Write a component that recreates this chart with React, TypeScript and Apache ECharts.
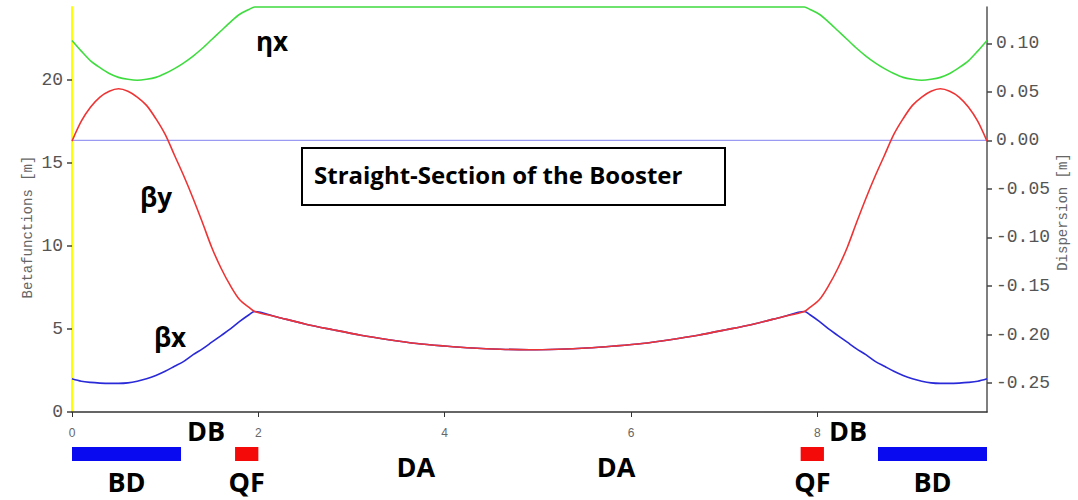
import React, { useEffect, useRef } from "react";
import * as echarts from "echarts";

// longitudinal position s [m]
const S = [
  0, 0.1, 0.2, 0.3, 0.4, 0.5, 0.6, 0.7, 0.8, 0.9, 1.0, 1.1, 1.2, 1.3, 1.4, 1.5, 1.6, 1.7, 1.8, 1.9, 1.96,
  2.2, 2.5, 2.8, 3.1, 3.4, 3.7, 4.0, 4.3, 4.6, 4.91, 5.22, 5.52, 5.82, 6.12, 6.42, 6.72, 7.02, 7.32, 7.62,
  7.86,
  7.92, 8.02, 8.12, 8.22, 8.32, 8.42, 8.52, 8.62, 8.72, 8.82, 8.92, 9.02, 9.12, 9.22, 9.32, 9.42, 9.52, 9.62, 9.72, 9.82,
];

// horizontal beta function [m]
const BETA_X = [
  2.0, 1.85, 1.78, 1.74, 1.72, 1.72, 1.75, 1.85, 2.0, 2.2, 2.45, 2.75, 3.05, 3.45, 3.8, 4.2, 4.6, 5.0, 5.45, 5.85, 6.05,
  5.72, 5.3, 4.95, 4.62, 4.35, 4.12, 3.97, 3.85, 3.78, 3.75, 3.78, 3.85, 3.97, 4.12, 4.35, 4.62, 4.95, 5.3, 5.72,
  6.05,
  5.85, 5.45, 5.0, 4.6, 4.2, 3.8, 3.45, 3.05, 2.75, 2.45, 2.2, 2.0, 1.85, 1.75, 1.72, 1.72, 1.74, 1.78, 1.85, 2.0,
];

// vertical beta function [m]
const BETA_Y = [
  16.3, 17.5, 18.35, 18.95, 19.3, 19.45, 19.3, 18.95, 18.45, 17.65, 16.7, 15.45, 14.2, 12.85, 11.4, 9.9, 8.65, 7.6, 6.75, 6.3, 6.05,
  5.72, 5.3, 4.95, 4.62, 4.35, 4.12, 3.97, 3.85, 3.78, 3.75, 3.78, 3.85, 3.97, 4.12, 4.35, 4.62, 4.95, 5.3, 5.72,
  6.05,
  6.3, 6.75, 7.6, 8.65, 9.9, 11.4, 12.85, 14.2, 15.45, 16.7, 17.65, 18.45, 18.95, 19.3, 19.45, 19.3, 18.95, 18.35, 17.5, 16.3,
];

// horizontal dispersion [m]
const ETA_X = [
  0.103, 0.092, 0.082, 0.075, 0.069, 0.065, 0.063, 0.062, 0.063, 0.065, 0.069, 0.074, 0.08, 0.087, 0.095, 0.104, 0.113, 0.122, 0.13, 0.135, 0.1375,
  0.1375, 0.1375, 0.1375, 0.1375, 0.1375, 0.1375, 0.1375, 0.1375, 0.1375, 0.1375, 0.1375, 0.1375, 0.1375, 0.1375, 0.1375, 0.1375, 0.1375, 0.1375, 0.1375,
  0.1375,
  0.135, 0.13, 0.122, 0.113, 0.104, 0.095, 0.087, 0.08, 0.074, 0.069, 0.065, 0.063, 0.062, 0.063, 0.065, 0.069, 0.075, 0.082, 0.092, 0.103,
];

// vertical dispersion (zero line)
const ETA_Y_S = [0, 9.82];
const ETA_Y = [0, 0];

// axis ticks
const X_TICKS = [0, 2, 4, 6, 8];
const BETA_TICKS = [0, 5, 10, 15, 20];
const DISP_TICKS = [0.1, 0.05, 0, -0.05, -0.1, -0.15, -0.2, -0.25];

// lattice elements
const ELEMENT_NAMES = ["BD", "QF", "QF", "BD"];
const ELEMENT_START = [0, 1.75, 7.82, 8.65];
const ELEMENT_END = [1.17, 2.0, 8.07, 9.82];

// drift labels
const DRIFT_NAMES = ["DB", "DA", "DA", "DB"];
const DRIFT_POS = [1.44, 3.69, 5.84, 8.33];

const S_MAX = 9.82;

const ELEMENT_COLOR: Record<string, string> = { BD: "#0a0af0", QF: "#f50a0a" };
const LABEL_FONT = 'bold 27px "Open Sans"';

export default function App() {
  const ref = useRef<HTMLDivElement>(null);

  useEffect(() => {
    if (!ref.current) return;
    const chart = echarts.init(ref.current, undefined, { renderer: "svg" });

    const tickLabelStyle = {
      fontFamily: '"Liberation Mono", monospace',
      fontSize: 18,
      color: "#555",
    };

    const option: any = {
      animation: false,
      backgroundColor: "#fff",
      grid: { left: 72, right: 91, top: 7, bottom: 88 },
      xAxis: {
        type: "value",
        min: 0,
        max: S_MAX,
        splitLine: { show: false },
        axisLine: { onZero: false, lineStyle: { color: "#333", width: 1.5 } },
        axisTick: { customValues: X_TICKS, length: 5, lineStyle: { color: "#333" } },
        axisLabel: {
          customValues: X_TICKS,
          margin: 15,
          fontFamily: '"Liberation Sans", sans-serif',
          fontSize: 12,
          color: "#666",
        },
      },
      yAxis: [
        {
          type: "value",
          min: 0,
          max: 24.37,
          splitLine: { show: false },
          axisLine: { show: true, onZero: false, lineStyle: { color: "#ffff00", width: 2 } },
          axisTick: { show: true, customValues: BETA_TICKS, length: 5, lineStyle: { color: "#444", width: 1.5 } },
          axisLabel: { customValues: BETA_TICKS, margin: 9, ...tickLabelStyle },
        },
        {
          type: "value",
          position: "right",
          min: -0.2798,
          max: 0.1375,
          splitLine: { show: false },
          axisLine: { show: true, onZero: false, lineStyle: { color: "#555", width: 1.5 } },
          axisTick: { show: true, customValues: DISP_TICKS, length: 5, lineStyle: { color: "#444", width: 1.5 } },
          axisLabel: {
            customValues: DISP_TICKS,
            margin: 9,
            formatter: (v: number) => v.toFixed(2),
            ...tickLabelStyle,
          },
        },
      ],
      series: [
        {
          name: "ηy",
          type: "line",
          yAxisIndex: 1,
          data: ETA_Y_S.map((s, i) => [s, ETA_Y[i]]),
          showSymbol: false,
          lineStyle: { color: "#9a9af2", width: 1.3 },
          z: 1,
        },
        {
          name: "ηx",
          type: "line",
          yAxisIndex: 1,
          clip: false,
          smooth: 0.3,
          data: S.map((s, i) => [s, ETA_X[i]]),
          showSymbol: false,
          lineStyle: { color: "#3fdc3f", width: 1.6 },
          z: 2,
        },
        {
          name: "βx",
          type: "line",
          yAxisIndex: 0,
          smooth: 0.3,
          data: S.map((s, i) => [s, BETA_X[i]]),
          showSymbol: false,
          lineStyle: { color: "#2a2ad8", width: 1.6 },
          z: 3,
        },
        {
          name: "βy",
          type: "line",
          yAxisIndex: 0,
          smooth: 0.3,
          data: S.map((s, i) => [s, BETA_Y[i]]),
          showSymbol: false,
          lineStyle: { color: "#ee3535", width: 1.6 },
          z: 4,
        },
        {
          name: "elements",
          type: "custom",
          yAxisIndex: 0,
          clip: false,
          silent: true,
          data: ELEMENT_START.map((s, i) => [s, ELEMENT_END[i], i]),
          renderItem: (params: any, api: any) => {
            const i = api.value(2);
            const name = ELEMENT_NAMES[i];
            const p0 = api.coord([api.value(0), 0]);
            const p1 = api.coord([api.value(1), 0]);
            const cx = (p0[0] + p1[0]) / 2;
            return {
              type: "group",
              children: [
                {
                  type: "rect",
                  shape: { x: p0[0], y: p0[1] + 35, width: p1[0] - p0[0], height: 14 },
                  style: { fill: ELEMENT_COLOR[name] },
                },
                {
                  type: "text",
                  x: cx,
                  y: p0[1] + 69,
                  style: {
                    text: name,
                    font: LABEL_FONT,
                    fill: "#000",
                    align: "center",
                    verticalAlign: "middle",
                  },
                },
              ],
            };
          },
        },
        {
          name: "drifts",
          type: "custom",
          yAxisIndex: 0,
          clip: false,
          silent: true,
          data: DRIFT_POS.map((s, i) => [s, 0, i]),
          renderItem: (params: any, api: any) => {
            const i = api.value(2);
            const name = DRIFT_NAMES[i];
            const p = api.coord([api.value(0), 0]);
            return {
              type: "text",
              x: p[0],
              y: p[1] + (name === "DB" ? 18 : 54),
              style: {
                text: name,
                font: LABEL_FONT,
                fill: "#000",
                align: "center",
                verticalAlign: "middle",
              },
            };
          },
        },
      ],
      graphic: [
        {
          type: "text",
          x: 28,
          y: 227,
          rotation: Math.PI / 2,
          style: {
            text: "Betafunctions [m]",
            font: '14px "Liberation Mono", monospace',
            fill: "#666",
            align: "center",
            verticalAlign: "middle",
          },
        },
        {
          type: "text",
          x: 1063,
          y: 212,
          rotation: Math.PI / 2,
          style: {
            text: "Dispersion [m]",
            font: '14px "Liberation Mono", monospace',
            fill: "#666",
            align: "center",
            verticalAlign: "middle",
          },
        },
        {
          type: "text",
          x: 272,
          y: 41,
          style: { text: "ηx", font: 'bold 26px "Open Sans"', fill: "#000", align: "center", verticalAlign: "middle" },
        },
        {
          type: "text",
          x: 156,
          y: 197,
          style: { text: "βy", font: 'bold 26px "Open Sans"', fill: "#000", align: "center", verticalAlign: "middle" },
        },
        {
          type: "text",
          x: 170,
          y: 337,
          style: { text: "βx", font: 'bold 26px "Open Sans"', fill: "#000", align: "center", verticalAlign: "middle" },
        },
        {
          type: "rect",
          shape: { x: 302, y: 148, width: 423, height: 57 },
          style: { fill: "#fff", stroke: "#000", lineWidth: 2 },
          z: 10,
        },
        {
          type: "text",
          x: 314,
          y: 174,
          z: 11,
          style: {
            text: "Straight-Section of the Booster",
            font: 'bold 24px "Open Sans"',
            fill: "#000",
            align: "left",
            verticalAlign: "middle",
          },
        },
      ],
    };

    chart.setOption(option);
    return () => chart.dispose();
  }, []);

  return (
    <div
      ref={ref}
      style={{ position: "fixed", left: 0, top: 0, width: 1078, height: 500, background: "#fff" }}
    />
  );
}
